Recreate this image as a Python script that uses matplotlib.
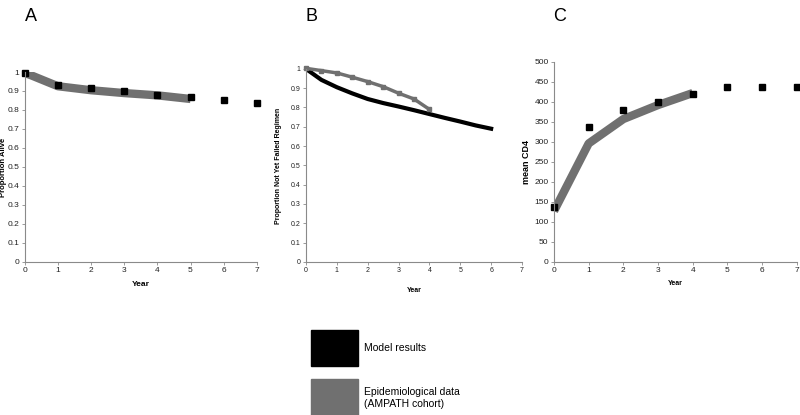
import matplotlib
matplotlib.use('Agg')
import matplotlib.pyplot as plt
from matplotlib.patches import Rectangle

plt.rcParams['font.family'] = ['Liberation Sans', 'DejaVu Sans']

# panel A: proportion alive
a_line_x = [0, 0.2, 1, 2, 3, 4, 5]
a_line_y = [0.995, 0.982, 0.925, 0.904, 0.889, 0.877, 0.858]
a_pts_x = [0, 1, 2, 3, 4, 5, 6, 7]
a_pts_y = [0.997, 0.933, 0.916, 0.898, 0.881, 0.867, 0.853, 0.837]

# panel B: proportion not yet failed regimen
b_model_x = [0, 0.5, 1, 1.5, 2, 2.5, 3, 3.5, 4, 4.5, 5, 5.5, 6]
b_model_y = [1.0, 0.943, 0.905, 0.873, 0.844, 0.823, 0.805, 0.786, 0.766, 0.746, 0.727, 0.707, 0.69]
b_data_x = [0, 0.5, 1, 1.5, 2, 2.5, 3, 3.5, 4]
b_data_y = [1.003, 0.991, 0.979, 0.957, 0.934, 0.908, 0.874, 0.844, 0.79]

# panel C: mean CD4
c_line_x = [0, 1, 2, 3, 4]
c_line_y = [127, 296, 357, 392, 422]
c_pts_x = [0, 1, 2, 3, 4, 5, 6, 7]
c_pts_y = [137, 337, 380, 400, 420, 437, 437, 438]

gray = '#707070'
axcol = '#8a8a8a'

fig = plt.figure(figsize=(8, 4.15), dpi=100)

def style(ax):
    for s in ['top', 'right']:
        ax.spines[s].set_visible(False)
    for s in ['left', 'bottom']:
        ax.spines[s].set_color(axcol)
        ax.spines[s].set_linewidth(0.8)
    ax.tick_params(colors=axcol, labelcolor='#222222', labelsize=6, length=2.5, width=0.6, pad=1.5)
    ax.set_xlim(0, 7)
    ax.set_xticks(range(8))

axA = fig.add_axes([0.031, 0.369, 0.29, 0.4575])
axA.plot(a_line_x, a_line_y, color=gray, lw=6, solid_capstyle='butt')
axA.plot(a_pts_x, a_pts_y, 's', color='black', ms=5, clip_on=False)
style(axA)
axA.set_ylim(0, 1)
axA.set_yticks([i / 10 for i in range(11)])
axA.set_yticklabels(['0', '0.1', '0.2', '0.3', '0.4', '0.5', '0.6', '0.7', '0.8', '0.9', '1'])
axA.set_ylabel('Proportion Alive', fontsize=5.5, fontweight='bold', labelpad=0)
axA.set_xlabel('Year', fontsize=6, fontweight='bold', labelpad=5)

axB = fig.add_axes([0.3825, 0.369, 0.27, 0.465])
axB.plot(b_model_x, b_model_y, color='black', lw=3)
axB.plot(b_data_x, b_data_y, color=gray, lw=2.5, marker='s', ms=2.5, clip_on=False)
style(axB)
axB.set_ylim(0, 1)
axB.set_yticks([i / 10 for i in range(11)])
axB.set_yticklabels(['0', '0.1', '0.2', '0.3', '0.4', '0.5', '0.6', '0.7', '0.8', '0.9', '1'])
axB.tick_params(labelsize=5)
axB.set_ylabel('Proportion Not Yet Failed Regimen', fontsize=5, fontweight='bold', labelpad=6)
axB.set_xlabel('Year', fontsize=5, fontweight='bold', labelpad=9)

axC = fig.add_axes([0.6925, 0.369, 0.3035, 0.482])
axC.plot(c_line_x, c_line_y, color=gray, lw=6, solid_capstyle='butt')
axC.plot(c_pts_x, c_pts_y, 's', color='black', ms=5, clip_on=False)
style(axC)
axC.set_ylim(0, 500)
axC.set_yticks(range(0, 501, 50))
axC.set_ylabel('mean CD4', fontsize=6.5, fontweight='bold', labelpad=2)
axC.set_xlabel('Year', fontsize=5, fontweight='bold', labelpad=4)

fig.text(0.031, 0.98, 'A', fontsize=13, va='top', ha='left')
fig.text(0.382, 0.98, 'B', fontsize=13, va='top', ha='left')
fig.text(0.692, 0.98, 'C', fontsize=13, va='top', ha='left')

# legend
fig.patches.append(Rectangle((311 / 800, 1 - 366 / 415), 47 / 800, 36 / 415,
                             transform=fig.transFigure, color='black'))
fig.patches.append(Rectangle((311 / 800, 1 - 415 / 415), 47 / 800, 36 / 415,
                             transform=fig.transFigure, color=gray))
fig.text(364 / 800, 1 - 348 / 415, 'Model results', fontsize=7.5, va='center')
fig.text(364 / 800, 1 - 398 / 415, 'Epidemiological data\n(AMPATH cohort)', fontsize=7.5,
         va='center', linespacing=1.15)

fig.savefig('out.png', dpi=100)
